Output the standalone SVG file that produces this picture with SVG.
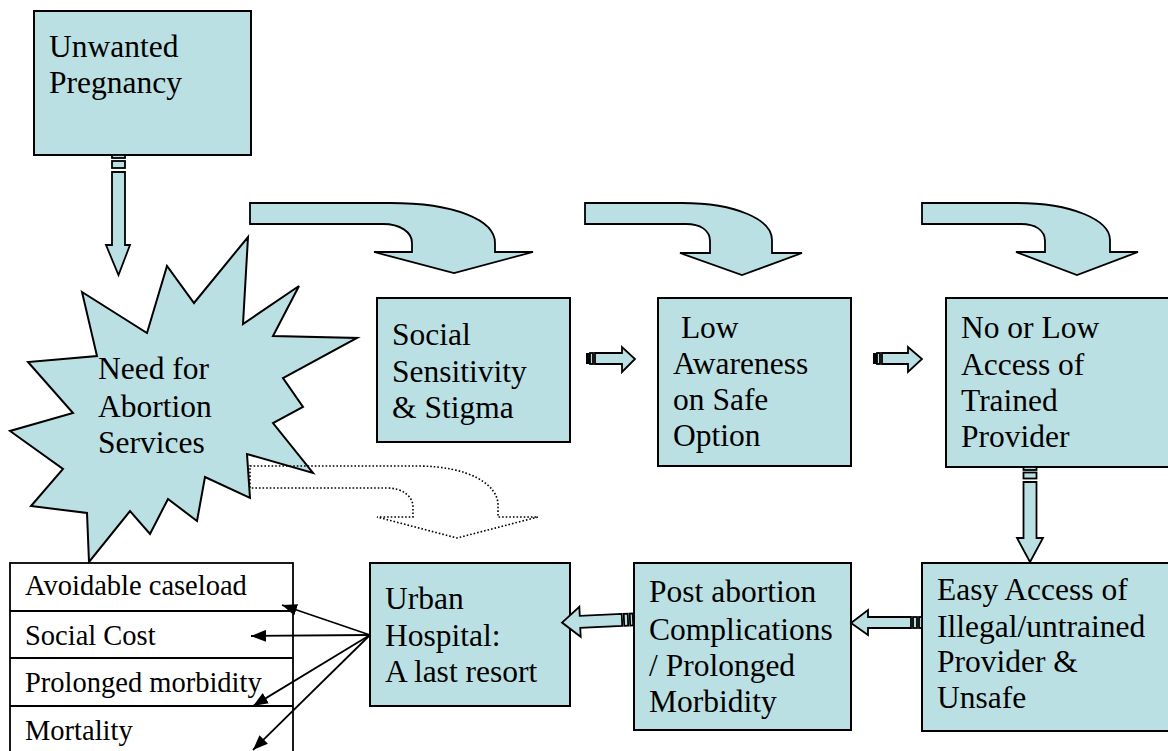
<svg xmlns="http://www.w3.org/2000/svg" width="1168" height="751" viewBox="0 0 1168 751">
<defs>
<style>
.box{fill:#BBE0E3;stroke:#000;stroke-width:2}
.t{font-size:31.5px;fill:#000}
.ts{font-size:28.5px;fill:#000}
.arr{fill:#BBE0E3;stroke:#000;stroke-width:1.8;stroke-linejoin:miter}
.dot{fill:none;stroke:#000;stroke-width:1.6;stroke-dasharray:1.6 2}
.ln{fill:none;stroke:#000;stroke-width:1.8}
.lst{fill:#fff;stroke:#000;stroke-width:1.8}
</style>
<marker id="ah" markerWidth="16" markerHeight="12" refX="15" refY="6" orient="auto" markerUnits="userSpaceOnUse">
<path d="M0,0 L15,6 L0,12 Z" fill="#000"/>
</marker>
</defs>
<rect width="1168" height="751" fill="#fff"/>

<g id="curved-arrows">
<path class="arr" d="M250,203 L390,203 C455,203 495,220 495,243 L495,252 L533,252 L454,273 L374,252 L412,252 L412,243 C412,232 400,224 383,224 L250,224 Z"/>
<path class="arr" d="M585,203 L682,203 C737,203 772,220 772,240 L772,253 L802,253 L742,275 L680,253 L710,253 L710,241 C710,230 700,224 686,224 L585,224 Z"/>
<path class="arr" d="M922,203 L1017,203 C1072,203 1110,220 1110,240 L1110,252 L1138,252 L1077,275 L1016,252 L1045,252 L1045,241 C1045,230 1035,224 1021,224 L922,224 Z"/>
</g>

<g font-family="'Liberation Serif', Tinos, 'Times New Roman', 'DejaVu Serif', serif">
<g id="node-unwanted">
<rect class="box" x="34" y="11" width="217" height="144"/>
<text class="t" x="49" y="57">Unwanted</text>
<text class="t" x="49" y="93">Pregnancy</text>
</g>

<g id="node-need">
<polygon class="box" stroke-width="1.8" points="82,292 147,333 167,266 194,303 248,237 243,324 299,286 273,336 357,338 283,378 303,407 273,423 313,473 247,454 250,498 205,477 197,521 168,499 150,534 130,511 89,562 87,513 31,506 63,469 10,431 73,413 28,362 97,356"/>
<text class="t" x="98" y="379">Need for</text>
<text class="t" x="98" y="417">Abortion</text>
<text class="t" x="98" y="453">Services</text>
</g>

<g id="node-social">
<rect class="box" x="377" y="298" width="193" height="144"/>
<text class="t" x="392" y="345">Social</text>
<text class="t" x="392" y="382">Sensitivity</text>
<text class="t" x="392" y="418">&amp; Stigma</text>
</g>

<g id="node-awareness">
<rect class="box" x="658" y="298" width="193" height="168"/>
<text class="t" x="673" y="338" xml:space="preserve"> Low</text>
<text class="t" x="673" y="374">Awareness</text>
<text class="t" x="673" y="410">on Safe</text>
<text class="t" x="673" y="446">Option</text>
</g>

<g id="node-noaccess">
<rect class="box" x="946" y="298" width="240" height="169"/>
<text class="t" x="961" y="338">No or Low</text>
<text class="t" x="961" y="375">Access of</text>
<text class="t" x="961" y="411">Trained</text>
<text class="t" x="961" y="447">Provider</text>
</g>

<g id="node-easy">
<rect class="box" x="922" y="563" width="260" height="168"/>
<text class="t" x="937" y="600">Easy Access of</text>
<text class="t" x="937" y="637">Illegal/untrained</text>
<text class="t" x="937" y="672">Provider &amp;</text>
<text class="t" x="937" y="708">Unsafe</text>
</g>

<g id="node-post">
<rect class="box" x="634" y="563" width="217" height="167"/>
<text class="t" x="649" y="602">Post abortion</text>
<text class="t" x="649" y="640">Complications</text>
<text class="t" x="649" y="676">/ Prolonged</text>
<text class="t" x="649" y="712">Morbidity</text>
</g>

<g id="node-urban">
<rect class="box" x="370" y="563" width="200" height="143"/>
<text class="t" x="385" y="609">Urban</text>
<text class="t" x="385" y="646">Hospital:</text>
<text class="t" x="385" y="682">A last resort</text>
</g>

<g id="node-list">
<rect class="lst" x="10" y="563" width="283" height="200"/>
<line class="ln" x1="10" y1="611" x2="293" y2="611"/>
<line class="ln" x1="10" y1="658" x2="293" y2="658"/>
<line class="ln" x1="10" y1="706" x2="293" y2="706"/>
<text class="ts" x="25" y="595">Avoidable caseload</text>
<text class="ts" x="25" y="645">Social Cost</text>
<text class="ts" x="25" y="692">Prolonged morbidity</text>
<text class="ts" x="25" y="740">Mortality</text>
</g>
</g>

<g id="connectors">
<g>
<rect class="arr" x="112" y="155" width="13" height="3"/>
<rect class="arr" x="112" y="161" width="13" height="7"/>
<polygon class="arr" points="112,172 125,172 125,245 130,245 118.5,275 106,245 112,245"/>
</g>
<g>
<rect class="arr" x="1023.5" y="467" width="13" height="3"/>
<rect class="arr" x="1023.5" y="472.5" width="13" height="6"/>
<polygon class="arr" points="1023.5,482 1036.5,482 1036.5,538 1043,538 1030,562 1017,538 1023.5,538"/>
</g>
<g>
<rect x="586" y="353" width="4" height="11" fill="#000"/>
<rect class="arr" x="590" y="353" width="3" height="11"/>
<polygon class="arr" points="595,353 622,353 622,347 635,359 622,372 622,364 595,364"/>
</g>
<g>
<rect x="873" y="353" width="4" height="11" fill="#000"/>
<rect class="arr" x="877" y="353" width="3" height="11"/>
<polygon class="arr" points="882,353 908,353 908,347 922,359 908,372 908,364 882,364"/>
</g>
<g>
<rect class="arr" x="919" y="617" width="3" height="11"/>
<rect class="arr" x="913" y="617" width="4" height="11"/>
<polygon class="arr" points="911,617 868,617 868,610 851,623 868,635 868,628 911,628"/>
</g>
<g transform="rotate(-2.5 598 621)">
<rect class="arr" x="630" y="615" width="3" height="12"/>
<rect class="arr" x="624" y="615" width="4" height="12"/>
<polygon class="arr" points="622,615 580,615 580,606 562,621 580,636 580,627 622,627"/>
</g>
<path class="dot" d="M250,466 L417,466 C470,466 498,485 498,505 L498,517 L538,517 L457,538 L377,517 L413,517 L413,507 C413,496 402,488 387,488 L250,488 Z"/>
<line class="ln" x1="370" y1="635" x2="282" y2="605" marker-end="url(#ah)"/>
<line class="ln" x1="370" y1="635" x2="251" y2="636" marker-end="url(#ah)"/>
<line class="ln" x1="370" y1="635" x2="253" y2="706" marker-end="url(#ah)"/>
<line class="ln" x1="370" y1="635" x2="253" y2="750" marker-end="url(#ah)"/>
</g>
</svg>
